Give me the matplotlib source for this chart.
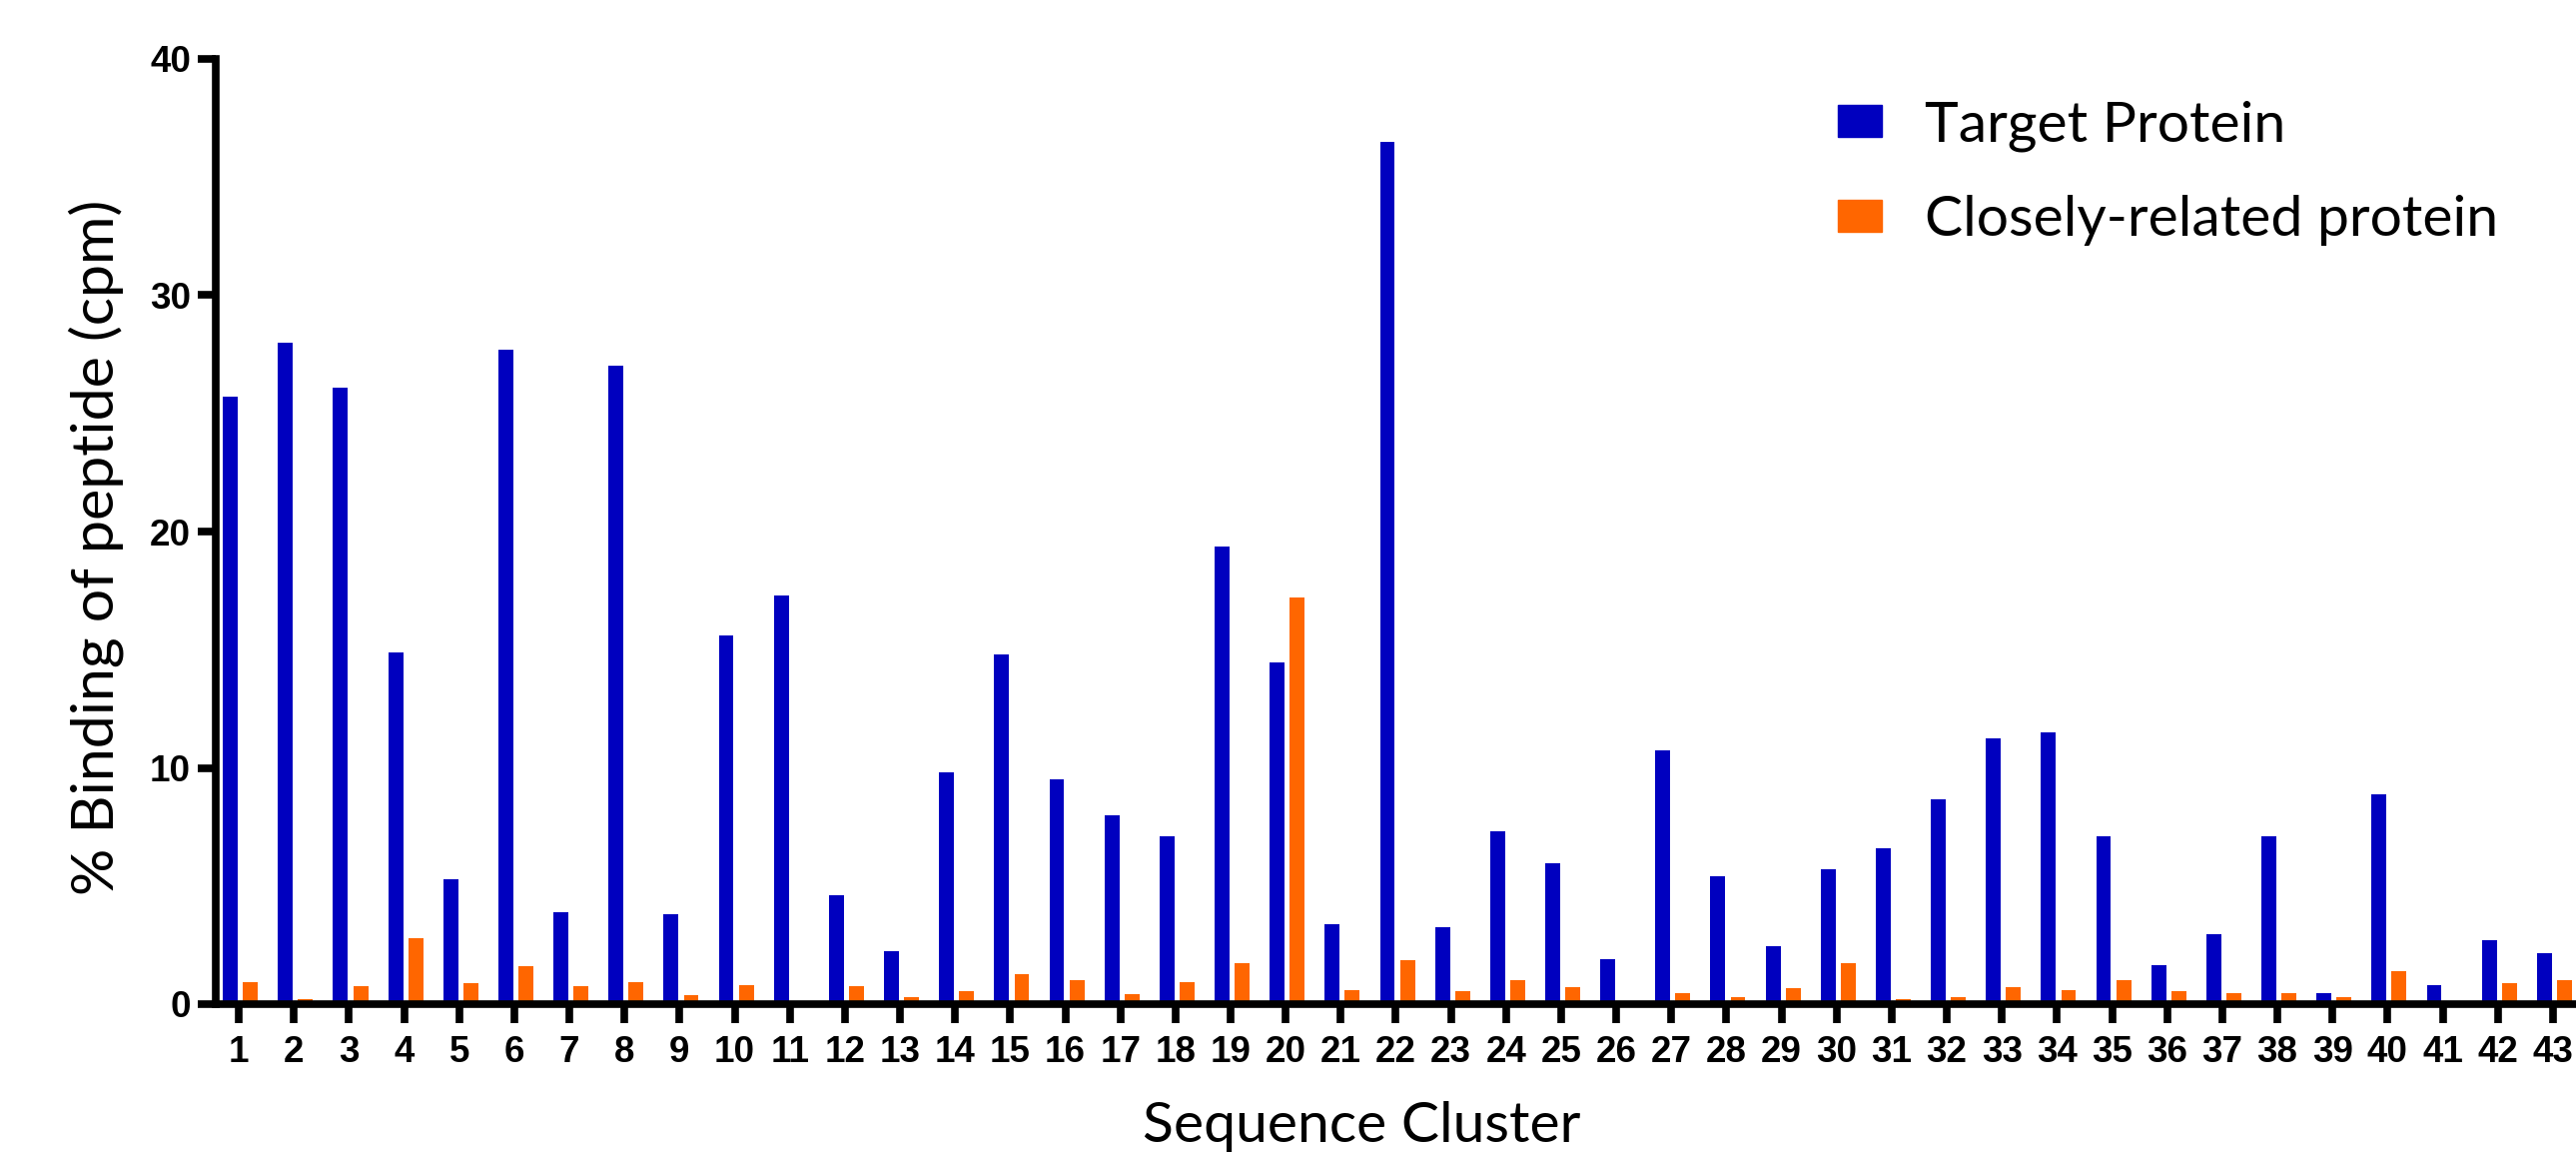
import numpy as np
import matplotlib.pyplot as plt
from matplotlib.patches import Patch

clusters = list(range(1, 44))
target = [25.7, 28.0, 26.1, 14.9, 5.3, 27.7, 3.9, 27.0, 3.8, 15.6,
          17.3, 4.6, 2.25, 9.8, 14.8, 9.5, 8.0, 7.1, 19.35, 14.45,
          3.4, 36.5, 3.25, 7.3, 5.95, 1.9, 10.75, 5.4, 2.45, 5.7,
          6.6, 8.65, 11.25, 11.5, 7.1, 1.65, 2.95, 7.1, 0.45, 8.9,
          0.8, 2.7, 2.15]
related = [0.95, 0.22, 0.78, 2.8, 0.88, 1.6, 0.75, 0.92, 0.4, 0.82,
           0.0, 0.78, 0.28, 0.56, 1.28, 1.03, 0.42, 0.92, 1.75, 17.2,
           0.6, 1.85, 0.56, 1.03, 0.7, 0.0, 0.47, 0.28, 0.66, 1.75,
           0.22, 0.28, 0.7, 0.6, 1.03, 0.56, 0.45, 0.47, 0.28, 1.38,
           0.1, 0.88, 1.0]
series_names = ["Target Protein", "Closely-related protein"]
colors = ["#0000BF", "#FF6600"]

fig = plt.figure(figsize=(25.79, 11.55), dpi=100)
ax = fig.add_axes([216/2579, 150/1155, 1 - 216/2579, (1005-59)/1155])

x = np.array(clusters)
ax.bar(x - 0.155, target, width=0.27, color=colors[0])
ax.bar(x + 0.21, related, width=0.27, color=colors[1])

ax.set_xlim(0.58, 43.42)
ax.set_ylim(0, 40)
ax.set_xticks(clusters)
ax.set_yticks([0, 10, 20, 30, 40])

for s in ["top", "right"]:
    ax.spines[s].set_visible(False)
for s in ["left", "bottom"]:
    ax.spines[s].set_linewidth(5.5)

ax.tick_params(axis="y", length=13, width=5.5, pad=5)
ax.tick_params(axis="x", length=14, width=5.5, pad=8)
for lab in ax.get_xticklabels() + ax.get_yticklabels():
    lab.set_family("Liberation Sans")
    lab.set_weight("bold")
    lab.set_fontsize(26.5)

fig.text(96/2579, 1 - 548/1155, "% Binding of peptide (cpm)", rotation=90,
         ha="center", va="center", family="Lato", fontsize=42.5)
fig.text(1363/2579, 12/1155, "Sequence Cluster", ha="center", va="baseline",
         family="Lato", fontsize=41)

handles = [Patch(color=c) for c in colors]
ax.legend(handles, series_names, loc="upper left",
          bbox_to_anchor=(1840/2579, 1 - 100/1155), bbox_transform=fig.transFigure,
          frameon=False, prop={"family": "Lato", "size": 41},
          handlelength=0.78, handleheight=0.5, handletextpad=0.75,
          labelspacing=0.77, borderpad=0, borderaxespad=0)

fig.savefig("out.png", dpi=100)
